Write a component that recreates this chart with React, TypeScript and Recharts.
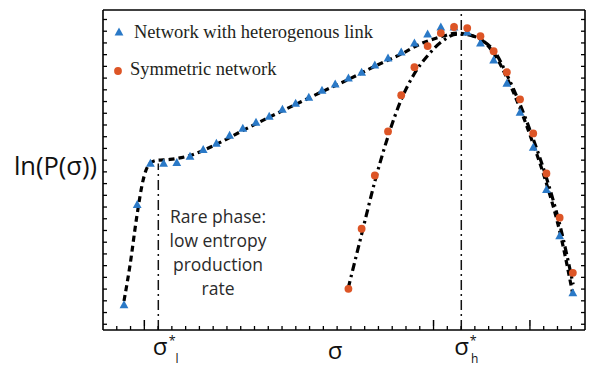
import React from 'react';
import { ComposedChart, Line, Scatter, XAxis, YAxis, ReferenceLine, Legend } from 'recharts';

// ---- data ----
const sigmaHet = [1, 2, 3, 4, 5, 6, 7, 8, 9, 10, 11, 12, 13, 14, 15, 16, 17, 18, 19, 20, 21, 22, 23, 24, 25, 26, 27, 28, 29, 30, 31, 32, 33, 34, 35];
const lnPHet = [2.14, 10.7, 14.21, 14.21, 14.29, 14.81, 15.4, 15.92, 16.6, 17.2, 17.72, 18.23, 18.83, 19.34, 19.85, 20.45, 20.97, 21.48, 21.99, 22.59, 23.19, 23.71, 24.48, 25.25, 25.85, 25.85, 25.42, 24.48, 23.02, 21.05, 18.57, 15.58, 11.98, 8.04, 3.17];

const sigmaSym = [18, 19, 20, 21, 22, 23, 24, 25, 26, 27, 28, 29, 30, 31, 32, 33, 34, 35];
const lnPSym = [3.51, 8.64, 13.18, 16.94, 20.03, 22.42, 24.22, 25.33, 25.85, 25.76, 25.07, 23.79, 21.99, 19.68, 16.77, 13.35, 9.58, 4.88];

const fitHetSigma = [1.0, 1.45, 1.98, 2.44, 2.89, 3.42, 4.48, 6.0, 7.97, 10.02, 11.98, 14.03, 16.08, 18.05, 20.02, 21.98, 23.42, 24.94, 26.23, 27.21, 28.2, 29.11, 30.02, 31.0, 31.98, 33.05, 34.03, 35.02];
const fitHetLnP = [2.48, 5.48, 9.76, 12.75, 14.12, 14.46, 14.55, 14.89, 15.83, 17.03, 18.14, 19.26, 20.37, 21.4, 22.51, 23.53, 24.39, 24.99, 25.33, 25.16, 24.65, 23.45, 21.48, 18.91, 15.92, 12.32, 8.3, 2.91];

const fitSymSigma = [17.97, 19.03, 20.02, 21.0, 21.98, 22.97, 24.03, 25.02, 26.23, 27.21, 28.2, 29.11, 30.02, 31.0, 31.98, 33.05, 34.03, 35.02];
const fitSymLnP = [3.51, 8.3, 12.75, 16.52, 19.6, 21.82, 23.45, 24.56, 25.25, 25.16, 24.65, 23.7, 21.74, 19.25, 16.35, 12.8, 8.9, 3.9];

const seriesNames = ['Network with heterogenous link', 'Symmetric network'];
const annotationLines = ['Rare phase:', 'low entropy', 'production', 'rate'];
const yAxisTitle = 'ln(P(σ))';
// x-axis labels, attached to bottom tick indices (σ*_l, σ, σ*_h)
const xLabelTickIdx = [3, 16, 25];
const xLabelMain = ['σ', 'σ', 'σ'];
const xLabelStars = ['*', '', '*'];
const xLabelSubs = ['l', '', 'h'];
const yTitleValue = [13.95];
const sigmaLow = 3.6;
const sigmaHigh = 26.55;
const rareLineTop = 14.2;

// ---- axis set-up ----
const X_DOMAIN = [-0.59, 35.92];
const Y_DOMAIN = [0, 27.3];
const xTicks = Array.from({ length: 34 }, (_, i) => -0.59 + (i + 1) * 1.0432);
const xMajorIdx = [2, 23, 30];
const yTicks = Array.from({ length: 27 }, (_, i) => 0.49 + i);

const BLUE = '#2a79c7';
const ORANGE = '#dd5526';
const TEXT_SANS = '"Open Sans", "Noto Sans", sans-serif';

const toPts = (xs: number[], ys: number[]) => xs.map((x, i) => ({ x, y: ys[i] }));
const hetData = toPts(sigmaHet, lnPHet);
const symData = toPts(sigmaSym, lnPSym);
const fitHet = toPts(fitHetSigma, fitHetLnP);
const fitSym = toPts(fitSymSigma, fitSymLnP);

const Triangle = (props: any) => {
  const { cx, cy } = props;
  if (cx == null || cy == null) return <g />;
  return <polygon points={`${cx},${cy - 4.6} ${cx - 4.4},${cy + 3.4} ${cx + 4.4},${cy + 3.4}`} fill={BLUE} />;
};
const Dot = (props: any) => {
  const { cx, cy } = props;
  if (cx == null || cy == null) return <g />;
  return <circle cx={cx} cy={cy} r={3.9} fill={ORANGE} />;
};

const labelOffsets = [
  { sig: 1.9, sigBase: 29, star: 14, sub: 19 },
  { sig: -2, sigBase: 33, star: 0, sub: 0 },
  { sig: 0.5, sigBase: 29, star: 12, sub: 13.5 },
];

const bottomTick = (props: any) => {
  const { x, y, index } = props;
  const parts: any[] = [];
  if (xMajorIdx.includes(index)) {
    parts.push(<line key="m" x1={x} x2={x} y1={y} y2={y - 6} stroke="#000" strokeWidth={1.5} />);
  }
  const li = xLabelTickIdx.indexOf(index);
  if (li >= 0) {
    const o = labelOffsets[li];
    parts.push(
      <text key="s" x={x + o.sig} y={y + o.sigBase} textAnchor="middle" fontFamily={TEXT_SANS} fontSize={24} fill="#111">{xLabelMain[li]}</text>
    );
    if (xLabelStars[li]) {
      parts.push(<text key="st" x={x + o.star} y={y + 19} textAnchor="middle" fontFamily={TEXT_SANS} fontSize={12.5} fill="#111">{xLabelStars[li]}</text>);
    }
    if (xLabelSubs[li]) {
      parts.push(<text key="sb" x={x + o.sub} y={y + 37} textAnchor="middle" fontFamily={TEXT_SANS} fontSize={12} fill="#111">{xLabelSubs[li]}</text>);
    }
  }
  return <g>{parts}</g>;
};
const topTick = (props: any) => {
  const { x, y, index } = props;
  if (xMajorIdx.includes(index)) {
    return <line x1={x} x2={x} y1={y} y2={y + 6} stroke="#000" strokeWidth={1.5} />;
  }
  return <g />;
};
const emptyTick = () => <g />;

const yTitleTick = (props: any) => {
  const { x, y } = props;
  return (
    <text x={x - 5} y={y} dy={9} textAnchor="end" fontFamily={TEXT_SANS} fontSize={25.5} fill="#111">{yAxisTitle}</text>
  );
};

const LegendBox = () => (
  <svg width={300} height={72} style={{ overflow: 'visible' }}>
    <polygon points="19,13.4 14.6,21.4 23.4,21.4" fill={BLUE} />
    <text x={34} y={24} fontFamily='"Liberation Serif", "Times New Roman", serif' fontSize={18.5} fill="#231f20">{seriesNames[0]}</text>
    <circle cx={18} cy={57} r={3.9} fill={ORANGE} />
    <text x={30} y={61} fontFamily='"Liberation Serif", "Times New Roman", serif' fontSize={18.5} fill="#231f20">{seriesNames[1]}</text>
  </svg>
);

const axisStroke = { stroke: '#000', strokeWidth: 1.6 };
const tickStroke = { stroke: '#000', strokeWidth: 1.3 };

export default function App() {
  return (
    <div style={{ position: 'absolute', left: 0, top: 0, width: 589, height: 367, background: '#fff' }}>
      <ComposedChart width={589} height={367} margin={{ top: 9, right: 3, bottom: 36, left: 101 }}>
        <XAxis xAxisId={0} dataKey="x" type="number" domain={X_DOMAIN} allowDataOverflow ticks={xTicks} interval={0}
          height={1} tickSize={-4} tickMargin={0} axisLine={axisStroke} tickLine={tickStroke} tick={bottomTick} />
        <XAxis xAxisId="top" orientation="top" type="number" domain={X_DOMAIN} allowDataOverflow ticks={xTicks} interval={0}
          height={1} tickSize={-4} tickMargin={0} axisLine={axisStroke} tickLine={tickStroke} tick={topTick} />
        <YAxis yAxisId={0} type="number" domain={Y_DOMAIN} allowDataOverflow ticks={yTicks} interval={0}
          width={1} tickSize={-4} tickMargin={0} axisLine={axisStroke} tickLine={tickStroke} tick={emptyTick} />
        <YAxis yAxisId="ylbl" type="number" domain={Y_DOMAIN} allowDataOverflow ticks={yTitleValue} interval={0}
          width={1} tickSize={0} tickMargin={0} axisLine={false} tickLine={false} tick={yTitleTick} />
        <YAxis yAxisId="right" orientation="right" type="number" domain={Y_DOMAIN} allowDataOverflow ticks={yTicks} interval={0}
          width={1} tickSize={-4} tickMargin={0} axisLine={axisStroke} tickLine={tickStroke} tick={emptyTick} />

        <ReferenceLine x={sigmaHigh} stroke="#111" strokeWidth={1.5} strokeDasharray="10 4 2 4" />
        <ReferenceLine segment={[{ x: sigmaLow, y: 0 }, { x: sigmaLow, y: rareLineTop }]} stroke="#111" strokeWidth={1.5} strokeDasharray="10 4 2 4" />

        <Line data={fitHet} dataKey="y" type="monotone" stroke="#000" strokeWidth={3.2} strokeDasharray="6 4" dot={false} activeDot={false} legendType="none" isAnimationActive={false} />
        <Line data={fitSym} dataKey="y" type="monotone" stroke="#000" strokeWidth={3.2} strokeDasharray="8 4 2.5 4" dot={false} activeDot={false} legendType="none" isAnimationActive={false} />

        <Scatter name={seriesNames[0]} data={hetData} dataKey="y" shape={<Triangle />} isAnimationActive={false} />
        <Scatter name={seriesNames[1]} data={symData} dataKey="y" shape={<Dot />} isAnimationActive={false} />

        <Legend layout="vertical" align="center" verticalAlign="middle" content={<LegendBox />}
          wrapperStyle={{ left: 100, top: 14, width: 300, height: 72 }} />
      </ComposedChart>
      <svg width={589} height={367} style={{ position: 'absolute', left: 0, top: 0, pointerEvents: 'none' }}>
        {annotationLines.map((t, i) => (
          <text key={t} x={218} y={223 + i * 24} textAnchor="middle" fontFamily={TEXT_SANS} fontSize={17.5} fill="#2b2b2b">{t}</text>
        ))}
      </svg>
    </div>
  );
}
